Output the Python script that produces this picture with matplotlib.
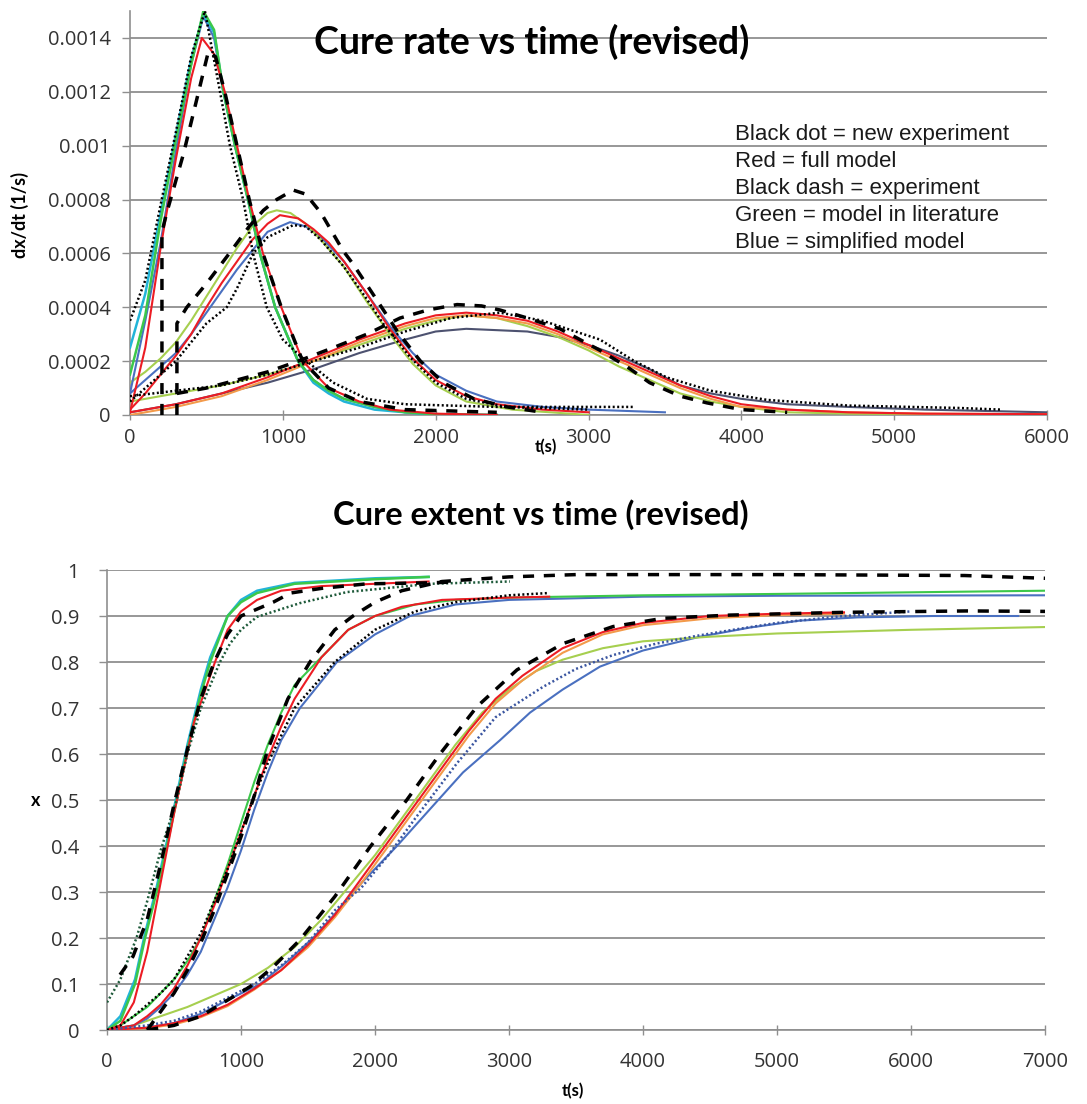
import matplotlib
matplotlib.use("Agg")
import matplotlib.pyplot as plt

# ---------------- top chart: cure rate dx/dt (1/s) ----------------
# group A (fast)
rA_t = [0, 100, 200, 300, 400, 480, 550, 611, 687, 772, 850, 950, 1100, 1200, 1300, 1400, 1600, 1800, 2000, 2400]
rA_green = [0.00015, 0.00037, 0.00072, 0.00102, 0.0013, 0.0015, 0.00143, 0.0012, 0.001, 0.0008, 0.0006, 0.0004,
            0.0002, 0.00013, 0.00009, 0.00006, 0.00003, 0.00001, 0.000003, 0]
rA_cyan = [0.00025, 0.00045, 0.00075, 0.00104, 0.00132, 0.00149, 0.00142, 0.0012, 0.001, 0.0008, 0.0006, 0.0004,
           0.0002, 0.00012, 0.00008, 0.00005, 0.00002, 0.00001, 0.0, 0]
rA_blue = [0.00008, 0.00035, 0.00064, 0.00098, 0.0013, 0.00148, 0.0014, 0.0012, 0.001, 0.0008, 0.0006, 0.0004,
           0.0002, 0.00013, 0.00009, 0.00006, 0.00003, 0.00001, 0.000003, 0]
rA_red_t = [0, 100, 200, 300, 400, 470, 550, 620, 700, 780, 870, 990, 1130, 1300, 1500, 1700, 2000, 2400]
rA_red = [0.00001, 0.00025, 0.00062, 0.00095, 0.00125, 0.0014, 0.00134, 0.0012, 0.001, 0.0008, 0.0006, 0.0004,
          0.0002, 0.0001, 0.00005, 0.00002, 0.000005, 0]
rA_dash_t = [209, 209, 240, 350, 436, 513, 560, 620, 700, 780, 870, 990, 1130, 1300, 1500, 1800, 2400]
rA_dash = [0, 0.00068, 0.00075, 0.00097, 0.00117, 0.00135, 0.00133, 0.0012, 0.001, 0.0008, 0.0006, 0.0004,
           0.0002, 0.0001, 0.00005, 0.00002, 0.00001]
rA_dot_t = [0, 100, 200, 300, 400, 490, 589, 654, 740, 805, 895, 1000, 1112, 1330, 1550, 1800, 2400, 3300]
rA_dot = [0.00035, 0.0005, 0.00078, 0.00105, 0.00133, 0.0015, 0.0012, 0.001, 0.0008, 0.0006, 0.0004, 0.00028,
          0.00022, 0.00012, 0.00006, 0.00004, 0.00003, 0.00003]

# group B (medium)
rB_green_t = [0, 100, 200, 300, 400, 500, 600, 700, 800, 900, 960, 1050, 1150, 1250, 1400, 1550, 1700, 1850, 2000,
              2200, 2500, 3000]
rB_green = [0.00012, 0.00016, 0.00021, 0.00027, 0.00035, 0.00044, 0.00053, 0.00062, 0.0007, 0.00075, 0.00076,
            0.00075, 0.00071, 0.00065, 0.00055, 0.00042, 0.0003, 0.00019, 0.00011, 0.00005, 0.00002, 0.0]
rB_red_t = [0, 100, 200, 300, 400, 500, 600, 700, 800, 900, 981, 1100, 1200, 1300, 1400, 1550, 1700, 1850, 2000,
            2200, 2400, 2700, 3000]
rB_red = [0.00002, 0.00008, 0.00015, 0.00022, 0.0003, 0.0004, 0.00049, 0.00057, 0.00065, 0.00071, 0.000742,
          0.00073, 0.00069, 0.00064, 0.00057, 0.00045, 0.00032, 0.00021, 0.00013, 0.00007, 0.00004, 0.00002, 0.00001]
rB_blue_t = [0, 100, 200, 300, 400, 500, 600, 700, 785, 900, 1047, 1150, 1250, 1400, 1550, 1700, 1850, 2000,
             2200, 2400, 2700, 3000, 3500]
rB_blue = [0.00008, 0.00013, 0.00018, 0.00023, 0.0003, 0.00038, 0.00046, 0.00054, 0.0006, 0.00068, 0.000716,
           0.0007, 0.00066, 0.00057, 0.00045, 0.00033, 0.00023, 0.00015, 0.00009, 0.00005, 0.00003, 0.00002, 0.00001]
rB_dash_t = [307, 307, 372, 503, 650, 780, 873, 960, 1068, 1150, 1250, 1394, 1460, 1600, 1750, 1900, 2050, 2250,
             2467, 2700]
rB_dash = [0, 0.00034, 0.0004, 0.00049, 0.0006, 0.0007, 0.00076, 0.0008, 0.000835, 0.00082, 0.00075, 0.00061,
           0.00056, 0.00044, 0.00031, 0.0002, 0.00012, 0.00006, 0.00003, 0.00001]
rB_dot_t = [0, 100, 200, 300, 400, 500, 633, 700, 805, 900, 1068, 1150, 1250, 1400, 1550, 1655, 1832, 2000, 2200,
            2460, 3000]
rB_dot = [0.00005, 0.0001, 0.00015, 0.0002, 0.00027, 0.00034, 0.0004, 0.00047, 0.0006, 0.00066, 0.000705, 0.0007,
          0.00065, 0.00055, 0.00043, 0.00034, 0.000215, 0.00012, 0.00006, 0.00003, 0.00002]

# group C (slow)
rC_t = [0, 300, 600, 900, 1200, 1500, 1800, 2000, 2200, 2400, 2600, 2800, 3000, 3200, 3400, 3600, 3800, 4000,
        4300, 4700, 5200, 6000]
rC_red = [0.00001, 0.00004, 0.00008, 0.00014, 0.00021, 0.00028, 0.00034, 0.00037, 0.00038, 0.00037, 0.00035,
          0.00031, 0.00026, 0.00021, 0.00016, 0.00011, 0.00007, 0.00004, 0.00002, 0.00001, 0.000005, 0.000003]
rC_orange = [0.0, 0.00003, 0.00007, 0.00013, 0.0002, 0.00027, 0.00033, 0.00036, 0.00037, 0.00036, 0.00034,
             0.0003, 0.00025, 0.0002, 0.00015, 0.0001, 0.00006, 0.00003, 0.00002, 0.00001, 0.000005, 0.000003]
rC_green = [0.00005, 0.00008, 0.00011, 0.00015, 0.0002, 0.00026, 0.00032, 0.00035, 0.00037, 0.00036, 0.00033,
            0.00029, 0.00024, 0.00018, 0.00013, 0.00008, 0.00005, 0.00003, 0.00001, 0.000005, 0.000003, 0.0]
rC_slate = [0.00001, 0.00004, 0.00008, 0.00012, 0.00017, 0.00023, 0.00028, 0.00031, 0.00032, 0.000315, 0.00031,
            0.00029, 0.00026, 0.00022, 0.00017, 0.00011, 0.00008, 0.00006, 0.00004, 0.00003, 0.00002, 0.00001]
rC_dash_t = [307, 500, 700, 900, 1100, 1330, 1550, 1767, 1950, 2140, 2300, 2420, 2600, 2813, 3075, 3250, 3400,
             3600, 3775, 4000, 4300]
rC_dash = [0.00008, 0.0001, 0.00013, 0.00016, 0.0002, 0.00025, 0.0003, 0.00036, 0.00039, 0.00041, 0.000405,
           0.00039, 0.00036, 0.00032, 0.00024, 0.00018, 0.00012, 0.00007, 0.000045, 0.00002, 0.00001]
rC_dot_t = [0, 300, 600, 900, 1200, 1500, 1800, 2100, 2421, 2700, 3075, 3300, 3510, 3800, 4170, 4700, 5430, 5700]
rC_dot = [0.00007, 0.00009, 0.00011, 0.00015, 0.0002, 0.00025, 0.00031, 0.00036, 0.00038, 0.00035, 0.00028,
          0.0002, 0.00014, 0.00009, 0.000056, 0.000035, 0.000026, 0.00002]

top_xticks = [0, 1000, 2000, 3000, 4000, 5000, 6000]
top_yticks = [0, 0.0002, 0.0004, 0.0006, 0.0008, 0.001, 0.0012, 0.0014]
top_ylabels = ["0", "0.0002", "0.0004", "0.0006", "0.0008", "0.001", "0.0012", "0.0014"]
legend_lines = ["Black dot = new experiment", "Red = full model", "Black dash = experiment",
                "Green = model in literature", "Blue = simplified model"]

# ---------------- bottom chart: cure extent x ----------------
xA_t = [0, 100, 209, 284, 370, 447, 520, 600, 700, 770, 900, 1000, 1120, 1400, 2000, 2400]
xA_green = [0, 0.02, 0.1, 0.2, 0.3, 0.4, 0.5, 0.61, 0.73, 0.8, 0.9, 0.93, 0.95, 0.97, 0.98, 0.985]
xA_cyan = [0, 0.03, 0.11, 0.21, 0.31, 0.41, 0.51, 0.62, 0.74, 0.81, 0.9, 0.935, 0.955, 0.972, 0.982, 0.985]
xA_red_t = [0, 100, 200, 300, 400, 500, 560, 650, 806, 900, 1000, 1120, 1300, 1600, 2000, 2400]
xA_red = [0, 0.01, 0.06, 0.17, 0.32, 0.47, 0.55, 0.67, 0.8, 0.87, 0.91, 0.935, 0.955, 0.965, 0.97, 0.975]
xA_dash_t = [97, 194, 300, 400, 500, 600, 700, 800, 900, 1000, 1120, 1240, 1370, 1600, 1940, 2400, 2600]
xA_dash = [0.12, 0.16, 0.24, 0.36, 0.49, 0.61, 0.72, 0.8, 0.86, 0.9, 0.915, 0.93, 0.95, 0.96, 0.97, 0.972, 0.974]
xA_dot_t = [0, 100, 220, 300, 400, 520, 600, 700, 843, 918, 1000, 1119, 1440, 1790, 2410, 3007]
xA_dot = [0.06, 0.11, 0.2, 0.28, 0.39, 0.5, 0.6, 0.7, 0.8, 0.84, 0.87, 0.898, 0.928, 0.952, 0.97, 0.975]

xB_dash_t = [300, 400, 500, 600, 700, 800, 900, 1000, 1100, 1200, 1350, 1515, 1700, 1836, 2000, 2200, 2500, 3000,
             3500, 5000, 6400, 7000]
xB_dash = [0, 0.04, 0.08, 0.13, 0.19, 0.26, 0.34, 0.42, 0.51, 0.61, 0.72, 0.8, 0.87, 0.9, 0.93, 0.955, 0.975,
           0.985, 0.99, 0.99, 0.988, 0.982]
xB_red_t = [0, 200, 300, 400, 500, 600, 700, 800, 900, 1000, 1100, 1200, 1300, 1400, 1600, 1800, 2000, 2200,
            2500, 3000, 3300]
xB_red = [0, 0.01, 0.03, 0.055, 0.09, 0.14, 0.2, 0.27, 0.35, 0.43, 0.51, 0.59, 0.66, 0.72, 0.81, 0.87, 0.9, 0.92,
          0.935, 0.94, 0.942]
xB_green_t = [0, 100, 200, 300, 400, 500, 600, 700, 800, 900, 1000, 1100, 1200, 1300, 1400, 1565, 1800, 2000,
              2300, 2600, 3000, 4000, 5000, 7000]
xB_green = [0, 0.01, 0.03, 0.05, 0.08, 0.11, 0.15, 0.2, 0.28, 0.36, 0.45, 0.54, 0.62, 0.69, 0.75, 0.8, 0.87, 0.9,
            0.925, 0.935, 0.94, 0.945, 0.948, 0.955]
xB_blue_t = [0, 200, 300, 400, 500, 600, 700, 800, 900, 1000, 1100, 1200, 1300, 1440, 1716, 2000, 2261, 2600,
             3000, 4000, 5000, 7000]
xB_blue = [0, 0.01, 0.025, 0.05, 0.08, 0.12, 0.17, 0.24, 0.31, 0.39, 0.48, 0.56, 0.63, 0.7, 0.8, 0.86, 0.9, 0.925,
           0.935, 0.942, 0.944, 0.945]
xB_dot_t = [0, 100, 200, 300, 400, 500, 600, 700, 800, 900, 1000, 1100, 1200, 1400, 1700, 2000, 2300, 2600, 3000,
            3300]
xB_dot = [0, 0.01, 0.03, 0.055, 0.08, 0.11, 0.16, 0.21, 0.28, 0.35, 0.43, 0.51, 0.58, 0.7, 0.8, 0.87, 0.91, 0.93,
          0.945, 0.95]

xC_dash_t = [300, 500, 700, 900, 1067, 1250, 1440, 1700, 1963, 2237, 2485, 2761, 3060, 3403, 3776, 4149, 4649,
             5500, 6418, 7000]
xC_dash = [0, 0.01, 0.03, 0.065, 0.094, 0.14, 0.196, 0.29, 0.398, 0.5, 0.6, 0.703, 0.783, 0.84, 0.877, 0.895,
           0.902, 0.908, 0.911, 0.91]
xC_red_t = [0, 300, 500, 700, 900, 1100, 1300, 1500, 1700, 1900, 2100, 2300, 2500, 2700, 2900, 3100, 3400, 3700,
            4000, 4500, 5000, 5500]
xC_red = [0, 0.005, 0.015, 0.03, 0.055, 0.09, 0.13, 0.185, 0.25, 0.33, 0.41, 0.49, 0.57, 0.65, 0.72, 0.77, 0.83,
          0.865, 0.885, 0.9, 0.905, 0.908]
xC_orange = [0, 0.004, 0.012, 0.028, 0.052, 0.088, 0.13, 0.18, 0.245, 0.32, 0.4, 0.48, 0.56, 0.64, 0.71, 0.76,
             0.82, 0.86, 0.88, 0.895, 0.902, 0.905]
xC_green_t = [0, 200, 400, 600, 800, 1000, 1200, 1400, 1600, 1800, 2000, 2200, 2400, 2600, 2800, 3000, 3200, 3400,
              3700, 4000, 4500, 5000, 6000, 7000]
xC_green = [0, 0.01, 0.03, 0.05, 0.075, 0.1, 0.135, 0.18, 0.24, 0.31, 0.38, 0.46, 0.54, 0.62, 0.69, 0.74, 0.78,
            0.805, 0.83, 0.845, 0.855, 0.862, 0.87, 0.876]
xC_blue_t = [0, 300, 500, 700, 900, 1142, 1350, 1537, 1664, 1900, 2164, 2410, 2657, 2933, 3157, 3400, 3679, 4000,
             4425, 4800, 5172, 5600, 6164, 6800]
xC_blue = [0, 0.005, 0.015, 0.035, 0.065, 0.1, 0.15, 0.2, 0.24, 0.32, 0.4, 0.48, 0.56, 0.63, 0.69, 0.74, 0.79,
           0.825, 0.855, 0.875, 0.89, 0.897, 0.9, 0.9]
xC_dot_t = [0, 300, 500, 700, 900, 1100, 1300, 1500, 1700, 1900, 2100, 2300, 2612, 2900, 3254, 3500, 3776, 4100,
            4403, 4672, 5000, 5500, 6000]
xC_dot = [0, 0.01, 0.02, 0.04, 0.07, 0.1, 0.14, 0.19, 0.26, 0.31, 0.38, 0.46, 0.58, 0.68, 0.746, 0.785, 0.815,
          0.84, 0.857, 0.87, 0.885, 0.9, 0.91]

bot_xticks = [0, 1000, 2000, 3000, 4000, 5000, 6000, 7000]
bot_yticks = [0, 0.1, 0.2, 0.3, 0.4, 0.5, 0.6, 0.7, 0.8, 0.9, 1]
bot_ylabels = ["0", "0.1", "0.2", "0.3", "0.4", "0.5", "0.6", "0.7", "0.8", "0.9", "1"]

# ---------------- styles ----------------
RED = "#ec1c24"
GREEN = "#3cc84a"
LIME = "#a6cf4f"
CYAN = "#22b4d8"
BLUE = "#4a70c0"
SLATE = "#4d5270"
ORANGE = "#f39a4a"
GRID = "#8f8f8f"

W, H = 1087, 1104
fig = plt.figure(figsize=(W / 100, H / 100), dpi=100)


def box(l, t, r, b):
    return [l / W, 1 - b / H, (r - l) / W, (b - t) / H]


def solid(ax, t, v, c, lw=1.5, z=3):
    ax.plot(t, v, color=c, lw=lw, solid_joinstyle="round", zorder=z)


def dash(ax, t, v):
    ax.plot(t, v, color="black", lw=2.5, dashes=(3.2, 2.8), zorder=6)


def dot(ax, t, v, c="black"):
    ax.plot(t, v, color=c, lw=1.8, dashes=(0.8, 1.0), zorder=5)


def style(ax, xt, yt, yl):
    for s in ("top", "right"):
        ax.spines[s].set_visible(False)
    for s in ("left", "bottom"):
        ax.spines[s].set_color(GRID)
        ax.spines[s].set_linewidth(1.2)
    ax.set_xticks(xt)
    ax.set_yticks(yt)
    ax.set_yticklabels(yl)
    ax.grid(axis="y", color=GRID, lw=1.3, zorder=0)
    ax.set_axisbelow(True)
    ax.tick_params(axis="both", colors=GRID, length=6, width=1.0, labelcolor="#333333",
                   labelsize=14.5)
    ax.tick_params(axis="x", direction="inout", length=7)
    for lab in ax.get_xticklabels() + ax.get_yticklabels():
        lab.set_family("Open Sans")


# ---------- top ----------
ax1 = fig.add_axes(box(130, 11, 1047, 415))
solid(ax1, rC_t, rC_slate, SLATE)
solid(ax1, rC_t, rC_green, LIME)
solid(ax1, rC_t, rC_orange, ORANGE)
solid(ax1, rC_t, rC_red, RED)
dot(ax1, rC_dot_t, rC_dot)
dash(ax1, rC_dash_t, rC_dash)

solid(ax1, rB_blue_t, rB_blue, BLUE)
solid(ax1, rB_green_t, rB_green, LIME)
solid(ax1, rB_red_t, rB_red, RED)
dot(ax1, rB_dot_t, rB_dot)
dash(ax1, rB_dash_t, rB_dash)

solid(ax1, rA_t, rA_blue, BLUE)
solid(ax1, rA_t, rA_cyan, CYAN, lw=1.8)
solid(ax1, rA_t, rA_green, GREEN, lw=1.8)
solid(ax1, rA_red_t, rA_red, RED)
dot(ax1, rA_dot_t, rA_dot)
dash(ax1, rA_dash_t, rA_dash)

ax1.set_xlim(0, 6000)
ax1.set_ylim(0, 0.0015)
style(ax1, top_xticks, top_yticks, top_ylabels)
ax1.tick_params(axis="x", pad=6)
ax1.tick_params(axis="y", pad=8)
ax1.set_xlabel("t(s)", fontsize=12, fontweight="bold", family="Lato", va="center")
ax1.xaxis.set_label_coords((546 - 130) / 917, -(447 - 415) / 404)
ax1.set_ylabel("dx/dt (1/s)", fontsize=13, fontweight="bold", family="Lato", va="center")
ax1.yaxis.set_label_coords(-(130 - 20) / 917, (415 - 215) / 404)

for i, line in enumerate(legend_lines):
    fig.text(735 / W, 1 - (140 + 27 * i) / H, line, fontsize=16, family="Liberation Sans",
             color="#1a1a1a", ha="left", va="baseline")

fig.text(532 / W, 1 - 42 / H, "Cure rate vs time (revised)", fontsize=27, fontweight="bold",
         family="Lato", ha="center", va="center", color="black")

# ---------- bottom ----------
ax2 = fig.add_axes(box(107, 570, 1045, 1030))
solid(ax2, xC_blue_t, xC_blue, BLUE)
solid(ax2, xC_green_t, xC_green, LIME)
solid(ax2, xC_red_t, xC_orange, ORANGE)
solid(ax2, xC_red_t, xC_red, RED)
dot(ax2, xC_dot_t, xC_dot, c="#3a55a0")
dash(ax2, xC_dash_t, xC_dash)

solid(ax2, xB_blue_t, xB_blue, BLUE)
solid(ax2, xB_green_t, xB_green, GREEN)
solid(ax2, xB_red_t, xB_red, RED)
dot(ax2, xB_dot_t, xB_dot)
dash(ax2, xB_dash_t, xB_dash)

solid(ax2, xA_t, xA_cyan, CYAN, lw=1.8)
solid(ax2, xA_t, xA_green, GREEN, lw=1.8)
solid(ax2, xA_red_t, xA_red, RED)
dot(ax2, xA_dot_t, xA_dot, c="#1e5a3a")
dash(ax2, xA_dash_t, xA_dash)

ax2.set_xlim(0, 7000)
ax2.set_ylim(0, 1)
style(ax2, bot_xticks, bot_yticks, bot_ylabels)
ax2.tick_params(axis="x", pad=12)
ax2.tick_params(axis="y", pad=14)
ax2.set_xlabel("t(s)", fontsize=12, fontweight="bold", family="Lato", va="center")
ax2.xaxis.set_label_coords((573 - 107) / 938, -(1091 - 1030) / 460)
ax2.set_ylabel("x", fontsize=13, fontweight="bold", family="Lato", rotation=0, va="center", ha="center")
ax2.yaxis.set_label_coords(-(107 - 36) / 938, (1030 - 800) / 460)

fig.text(541 / W, 1 - 515 / H, "Cure extent vs time (revised)", fontsize=23.5, fontweight="bold",
         family="Lato", ha="center", va="center", color="black")

fig.savefig("out.png", dpi=100, facecolor="white")
